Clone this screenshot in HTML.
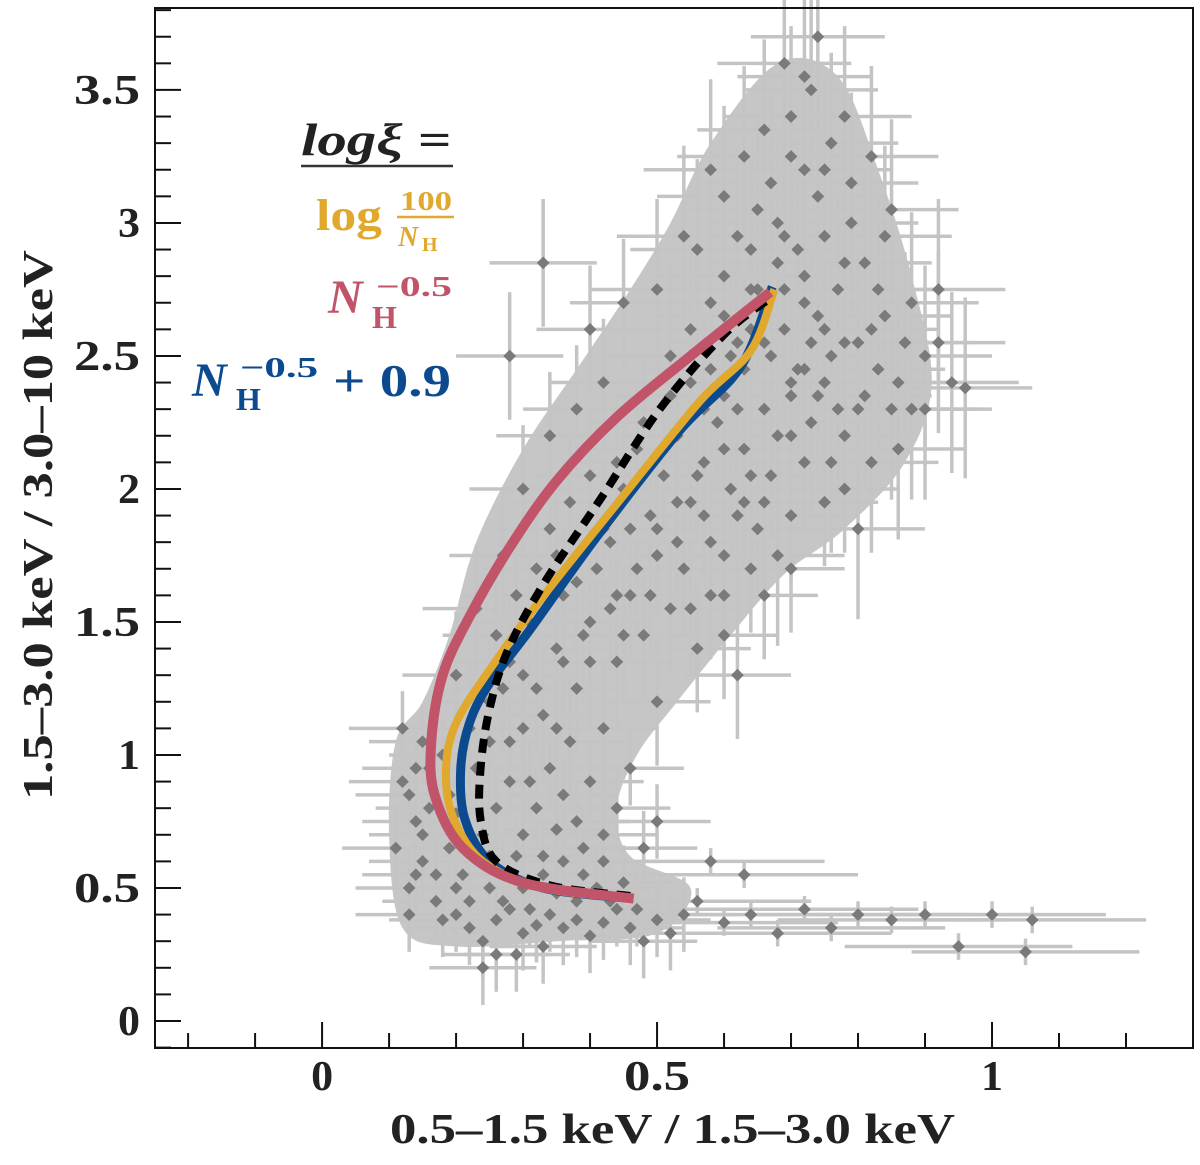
<!DOCTYPE html>
<html><head><meta charset="utf-8"><style>
html,body{margin:0;padding:0;background:#fff;}
svg{display:block;}
text{font-family:"Liberation Serif",serif;font-weight:bold;}
</style></head><body>
<svg id="chart" width="1200" height="1165" viewBox="0 0 1200 1165" xmlns="http://www.w3.org/2000/svg">
<g id="blob"></g>
<g id="errs"></g>
<g id="pts"></g>
<g id="curves"></g>
<g id="axes"></g>
<g>
<text x="301" y="155" font-size="46" font-style="italic" fill="#222" textLength="150" lengthAdjust="spacingAndGlyphs">logξ =</text>
<line x1="301" y1="166" x2="453" y2="166" stroke="#333" stroke-width="2.5"/>
<g fill="#e0a92e">
<text x="316" y="230" font-size="44" font-weight="normal" textLength="66" lengthAdjust="spacingAndGlyphs">log</text>
<text x="400" y="210" font-size="27" textLength="52" lengthAdjust="spacingAndGlyphs">100</text>
<line x1="397" y1="217" x2="454" y2="217" stroke="#e0a92e" stroke-width="2.5"/>
<text x="398" y="246" font-size="28" font-style="italic">N</text><text x="422" y="251" font-size="20">H</text>
</g>
<g fill="#c2546a">
<text x="328" y="313" font-size="48" font-style="italic">N</text><text x="372" y="328" font-size="32">H</text>
<text x="376" y="296" font-size="29" textLength="76" lengthAdjust="spacingAndGlyphs">−0.5</text>
</g>
<g fill="#0b4a8e">
<text x="192" y="396" font-size="48" font-style="italic">N</text><text x="236" y="410" font-size="32">H</text>
<text x="240" y="377" font-size="29" textLength="78" lengthAdjust="spacingAndGlyphs">−0.5</text>
<text x="333" y="396" font-size="46" textLength="118" lengthAdjust="spacingAndGlyphs">+ 0.9</text>
</g>
</g>
<text x="390" y="1143" font-size="42" fill="#222" textLength="565" lengthAdjust="spacingAndGlyphs">0.5–1.5 keV  /  1.5–3.0 keV</text>
<text transform="translate(52,800) rotate(-90)" font-size="42" fill="#222" textLength="550" lengthAdjust="spacingAndGlyphs">1.5–3.0 keV  /  3.0–10 keV</text>
</svg>
<script>
const lowPts=[[0.12,0.9],[0.14,0.75],[0.15,0.6],[0.13,0.5],[0.17,0.45],[0.2,0.4],[0.22,0.35],[0.24,0.3],[0.26,0.38],[0.28,0.42],[0.3,0.33],[0.32,0.36],[0.34,0.4],[0.36,0.35],[0.38,0.38],[0.4,0.32],[0.42,0.37],[0.44,0.42],[0.46,0.35],[0.48,0.3],[0.5,0.38],[0.52,0.33],[0.54,0.4],[0.25,0.5],[0.27,0.55],[0.3,0.5],[0.33,0.55],[0.36,0.6],[0.39,0.55],[0.42,0.6],[0.45,0.52],[0.16,0.8],[0.18,1.0],[0.15,1.05],[0.12,1.1],[0.19,0.65],[0.21,0.55],[0.24,0.7],[0.26,0.8],[0.28,0.9],[0.3,0.7],[0.32,0.8],[0.34,0.95],[0.36,0.85],[0.38,0.75],[0.4,0.9],[0.42,0.7],[0.44,0.8],[0.46,0.95],[0.48,0.65],[0.5,0.75],[0.14,0.95],[0.11,0.65],[0.13,0.4],[0.24,0.2],[0.29,0.25],[0.2,0.5],
[0.15,0.7],[0.17,0.55],[0.19,0.85],[0.22,0.45],[0.25,0.62],[0.27,0.45],[0.31,0.42],[0.33,0.62],[0.35,0.48],[0.38,0.45],[0.41,0.5],[0.43,0.45],[0.47,0.42],[0.13,0.85],[0.16,0.95],[0.23,0.95],[0.29,0.62],[0.31,0.9],[0.2,0.78],[0.35,0.72],[0.39,0.65],[0.14,0.55],[0.18,0.38],[0.26,0.25],[0.33,0.28]];
const tailPts=[[0.56,0.45],[0.6,0.37],[0.64,0.4],[0.68,0.33],[0.72,0.42],[0.76,0.35],[0.8,0.4],[0.85,0.38],[0.9,0.4],[0.95,0.28],[1.0,0.4],[1.06,0.38],[1.05,0.26],[0.63,0.55],[0.58,0.6]];
const midPts=[[0.22,1.1],[0.25,1.2],[0.28,1.05],[0.3,1.3],[0.33,1.15],[0.35,1.4],[0.38,1.25],[0.4,1.5],[0.42,1.1],[0.44,1.35],[0.46,1.6],[0.48,1.45],[0.5,1.2],[0.52,1.55],[0.54,1.7],[0.56,1.4],[0.58,1.8],[0.6,1.6],[0.62,1.3],[0.26,1.45],[0.29,1.6],[0.32,1.7],[0.34,1.85],[0.37,1.95],[0.4,2.05],[0.43,1.8],[0.45,2.0],[0.47,2.15],[0.49,1.9],[0.51,2.05],[0.53,2.2],[0.55,1.95],[0.57,2.1],[0.59,2.25],[0.61,2.0],[0.63,2.15],[0.65,1.85],[0.67,2.05],[0.7,1.9],[0.72,2.1],[0.75,1.95],[0.78,2.0],[0.2,1.3],[0.23,1.55],[0.27,1.75],[0.3,2.0],[0.34,2.2],[0.38,2.3],[0.42,2.4],[0.36,1.6],[0.41,1.7],[0.46,1.85],[0.5,1.75],[0.55,1.55],[0.6,1.45],[0.66,1.6],[0.7,1.7],[0.33,2.85],[0.28,2.5],[0.4,2.6],[0.45,2.7],
[0.3,1.1],[0.32,1.25],[0.36,1.35],[0.39,1.45],[0.43,1.55],[0.47,1.7],[0.5,1.85],[0.53,1.95],[0.56,2.05],[0.45,1.45],[0.49,1.6],[0.53,1.8],[0.57,1.9],[0.38,1.65],[0.42,1.85],[0.44,2.1],[0.48,2.25],[0.52,2.35],[0.35,1.75],[0.31,1.5],[0.28,1.35],[0.25,1.05],[0.27,1.25],[0.4,1.35],[0.44,1.6],[0.6,1.75],[0.63,1.95],[0.58,1.6],[0.64,1.7],[0.35,1.1],[0.37,1.05]];
const upPts=[[0.52,2.5],[0.55,2.6],[0.58,2.45],[0.6,2.8],[0.62,2.55],[0.64,2.9],[0.66,2.65],[0.68,3.0],[0.7,2.4],[0.72,2.7],[0.74,3.1],[0.76,2.5],[0.78,2.85],[0.8,2.3],[0.82,2.6],[0.84,2.95],[0.86,2.4],[0.88,2.7],[0.9,2.5],[0.92,2.55],[0.94,2.4],[0.96,2.38],[0.56,2.9],[0.6,3.1],[0.63,3.25],[0.66,3.35],[0.7,3.4],[0.73,3.5],[0.76,3.3],[0.79,3.15],[0.82,3.25],[0.85,3.05],[0.58,3.2],[0.54,2.95],[0.5,2.75],[0.62,2.3],[0.66,2.3],[0.7,2.2],[0.74,2.35],[0.78,2.2],[0.82,2.1],[0.86,2.15],[0.88,2.3],[0.75,2.6],[0.71,2.9],[0.67,2.5],[0.69,2.75],[0.73,2.55],[0.77,2.75],[0.81,2.85],[0.65,3.05],[0.72,3.2],[0.92,2.75],[0.69,3.6],[0.74,3.7],[0.8,1.85],[0.68,1.75],[0.71,2.45],[0.83,2.45],[0.6,2.65],[0.64,2.75],[0.57,2.3],
[0.6,2.35],[0.63,2.45],[0.66,2.55],[0.69,2.6],[0.72,2.45],[0.75,2.4],[0.78,2.55],[0.81,2.35],[0.84,2.65],[0.87,2.55],[0.65,2.75],[0.68,2.85],[0.72,2.8],[0.75,2.95],[0.79,3.0],[0.83,2.75],[0.67,3.15],[0.7,3.25],[0.75,3.2],[0.78,3.4],[0.72,3.55],[0.62,2.95],[0.58,2.7],[0.55,2.4],[0.6,2.15],[0.64,2.05],[0.68,2.2],[0.73,2.25],[0.76,2.1],[0.8,2.55],[0.85,2.3],[0.9,2.3],[0.66,1.95],[0.62,1.9],[0.7,2.35],[0.74,2.65],[0.77,2.3],[0.69,2.95],[0.64,2.6],[0.61,2.5]];
const groupErrX=[0.08,0.17,0.08,0.1];
const groupErrY=[0.14,0.05,0.24,0.34];
const coreOutline=[[0.12,0.35],[0.2,0.28],[0.35,0.3],[0.5,0.33],[0.55,0.5],[0.46,0.62],[0.44,0.8],[0.47,1.0],[0.53,1.2],[0.61,1.45],[0.69,1.68],[0.78,1.85],[0.87,2.1],[0.91,2.4],[0.88,2.8],[0.83,3.2],[0.77,3.55],[0.68,3.6],[0.58,3.3],[0.52,3.0],[0.46,2.75],[0.38,2.45],[0.3,2.15],[0.23,1.8],[0.19,1.45],[0.15,1.2],[0.11,1.05],[0.1,0.7]];
const curveRed=[[0.465,0.46],[0.3,0.52],[0.21,0.65],[0.168,0.85],[0.163,1.05],[0.18,1.3],[0.22,1.52],[0.28,1.78],[0.35,2.03],[0.44,2.27],[0.55,2.5],[0.669,2.74]];
const curveYellow=[[0.465,0.46],[0.33,0.5],[0.24,0.6],[0.195,0.77],[0.185,0.95],[0.2,1.12],[0.25,1.32],[0.325,1.58],[0.445,1.96],[0.564,2.33],[0.64,2.52],[0.675,2.75]];
const curveBlue=[[0.465,0.46],[0.33,0.5],[0.25,0.6],[0.213,0.76],[0.207,0.95],[0.22,1.12],[0.25,1.27],[0.31,1.47],[0.41,1.82],[0.534,2.22],[0.625,2.46],[0.672,2.76]];
const curveBlack=[[0.46,0.47],[0.34,0.51],[0.26,0.6],[0.237,0.75],[0.236,0.93],[0.248,1.15],[0.275,1.38],[0.33,1.64],[0.415,1.96],[0.504,2.3],[0.6,2.58],[0.67,2.72]];
const xTicks=[0,0.5,1];
const yTicks=[0,0.5,1,1.5,2,2.5,3,3.5];
const X0=155,X1=1193,Y0=8,Y1=1048;
const xmin=-0.2494,xmax=1.3,ymin=-0.1015,ymax=3.808;
function sx(v){return X0+(v-xmin)/(xmax-xmin)*(X1-X0);}
function sy(v){return Y1-(v-ymin)/(ymax-ymin)*(Y1-Y0);}
const NS='http://www.w3.org/2000/svg';
function mk(tag,attrs,parent){const e=document.createElementNS(NS,tag);for(const k in attrs)e.setAttribute(k,attrs[k]);parent.appendChild(e);return e;}
function smooth(arr,closed){
 const P=arr.map(p=>[sx(p[0]),sy(p[1])]);
 const n=P.length;
 let d=`M${P[0][0]},${P[0][1]}`;
 const last=closed?n:n-1;
 for(let i=0;i<last;i++){
  const g=j=>closed?P[(j+n)%n]:P[Math.max(0,Math.min(n-1,j))];
  const p0=g(i-1),p1=g(i),p2=g(i+1),p3=g(i+2);
  const c1=[p1[0]+(p2[0]-p0[0])/6,p1[1]+(p2[1]-p0[1])/6];
  const c2=[p2[0]-(p3[0]-p1[0])/6,p2[1]-(p3[1]-p1[1])/6];
  d+=`C${c1[0]},${c1[1]} ${c2[0]},${c2[1]} ${p2[0]},${p2[1]}`;
 }
 return d+(closed?'Z':'');
}
const blob=mk('path',{d:smooth(coreOutline,true),fill:'#c6c6c6'},document.getElementById('blob'));


const errs=document.getElementById('errs'),pts=document.getElementById('pts');
[lowPts,tailPts,midPts,upPts].forEach((g,gi)=>{
 g.forEach(p=>{
  const x=sx(p[0]),y=sy(p[1]);
  const h=mk('line',{x1:sx(p[0]-groupErrX[gi]),x2:sx(p[0]+groupErrX[gi]),y1:y,y2:y,stroke:'#c4c4c4','stroke-width':3.5},errs);
  
  
  const v=mk('line',{x1:x,x2:x,y1:sy(p[1]-groupErrY[gi]),y2:sy(p[1]+groupErrY[gi]),stroke:'#c4c4c4','stroke-width':3.5},errs);
  
  
  const d=mk('rect',{x:x-4.5,y:y-4.5,width:9,height:9,fill:'#7a7a7a',transform:`rotate(45 ${x} ${y})`},pts);
  
  
 });
});
const cg=document.getElementById('curves');
const cb=mk('path',{d:smooth(curveBlue),fill:'none',stroke:'#0b4a8e','stroke-width':9},cg);


const cy=mk('path',{d:smooth(curveYellow),fill:'none',stroke:'#e0a92e','stroke-width':8},cg);


const ck=mk('path',{d:smooth(curveBlack),fill:'none',stroke:'#000','stroke-width':8,'stroke-dasharray':'14 9'},cg);


const cr=mk('path',{d:smooth(curveRed),fill:'none',stroke:'#c2546a','stroke-width':10},cg);


const ax=document.getElementById('axes');
const fr=mk('rect',{x:X0,y:Y0,width:X1-X0,height:Y1-Y0,fill:'none',stroke:'#111','stroke-width':2},ax);


for(let i=-2;i<=13;i++){
 const v=i/10,x=sx(v),maj=(i%5===0);
 const t=mk('line',{x1:x,x2:x,y1:Y1,y2:Y1-(maj?26:15),stroke:'#111','stroke-width':2},ax);
 
 
}
for(let i=-1;i<=38;i++){
 const v=i/10,y=sy(v),maj=(i%5===0);
 const t=mk('line',{x1:X0,x2:X0+(maj?26:16),y1:y,y2:y,stroke:'#111','stroke-width':2},ax);
 
 
}
xTicks.forEach(v=>{const s=String(v);const w=s.length===1?22:66;
 const t=mk('text',{x:sx(v)-w/2,y:1090,'font-size':42,fill:'#222',textLength:w,lengthAdjust:'spacingAndGlyphs'},ax);t.textContent=s;
 
 });
yTicks.forEach(v=>{const s=String(v);const w=s.length===1?22:66;
 const t=mk('text',{x:140-w,y:sy(v)+14,'font-size':42,fill:'#222',textLength:w,lengthAdjust:'spacingAndGlyphs'},ax);t.textContent=s;
 
 });
</script>
</body></html>
